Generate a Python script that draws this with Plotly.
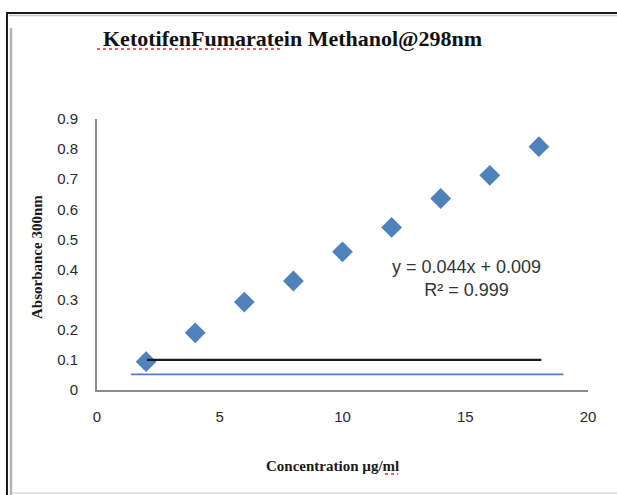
import plotly.graph_objects as go

# Calibration standards: concentration (µg/ml) vs absorbance
concentration = [2, 4, 6, 8, 10, 12, 14, 16, 18]
absorbance = [0.094, 0.19, 0.292, 0.362, 0.459, 0.54, 0.636, 0.713, 0.808]

# Horizontal reference lines drawn on the chart
black_line_x = [2.03, 18.1]
black_line_y = [0.1, 0.1]
blue_line_x = [1.38, 19.0]
blue_line_y = [0.052, 0.052]

x_ticks = [0, 5, 10, 15, 20]
y_ticks = [0, 0.1, 0.2, 0.3, 0.4, 0.5, 0.6, 0.7, 0.8, 0.9]

equation_text = "y = 0.044x + 0.009<br>R² = 0.999"

W, H = 617, 495
L, R, T, B = 97, 29, 119, 105
PW, PH = W - L - R, H - T - B


def px(x):
    return (x - L) / PW


def py(y):
    return (H - B - y) / PH


fig = go.Figure()

fig.add_trace(go.Scatter(
    x=blue_line_x, y=blue_line_y, mode="lines",
    line=dict(color="#4F81BD", width=1.6), hoverinfo="skip", showlegend=False))
fig.add_trace(go.Scatter(
    x=concentration, y=absorbance, mode="markers",
    marker=dict(symbol="diamond", size=16, color="#4F81BD", line=dict(width=0)),
    showlegend=False))
fig.add_trace(go.Scatter(
    x=black_line_x, y=black_line_y, mode="lines",
    line=dict(color="#1a1a1a", width=2.4), hoverinfo="skip", showlegend=False))

axis_common = dict(
    showgrid=False, zeroline=False, showline=True, linecolor="#8c8c8c", linewidth=2,
    ticks="", tickfont=dict(family="Liberation Sans", size=15, color="#2a2a2a"),
)

fig.update_xaxes(range=[0, 20], tickvals=x_ticks, ticktext=[str(v) for v in x_ticks],
                 ticklabelstandoff=12, **axis_common)
fig.update_yaxes(range=[0, 0.9], tickvals=y_ticks,
                 ticktext=["0" if v == 0 else f"{v:.1f}" for v in y_ticks],
                 ticklabelstandoff=14, **axis_common)

annotations = [
    dict(x=15.06, y=0.369, xref="x", yref="y", text=equation_text, showarrow=False,
         xanchor="center", yanchor="middle",
         font=dict(family="Liberation Sans", size=18, color="#333333"), align="center"),
    dict(x=px(37), y=py(257), xref="paper", yref="paper", text="<b>Absorbance 300nm</b>",
         textangle=-90, showarrow=False, xanchor="center", yanchor="middle",
         font=dict(family="Liberation Serif", size=15, color="#1a1a1a")),
    dict(x=px(332), y=py(466), xref="paper", yref="paper", text="<b>Concentration µg/ml</b>",
         showarrow=False, xanchor="center", yanchor="middle",
         font=dict(family="Liberation Serif", size=15, color="#1a1a1a")),
    dict(x=px(292), y=py(38), xref="paper", yref="paper",
         text="<b>KetotifenFumaratein Methanol@298nm</b>", showarrow=False,
         xanchor="center", yanchor="middle",
         font=dict(family="Liberation Serif", size=22, color="#111111")),
]

shapes = [
    # outer frame
    dict(type="line", xref="paper", yref="paper", x0=px(7), x1=px(W + 5), y0=py(13), y1=py(13),
         line=dict(color="#1a1a1a", width=2)),
    dict(type="line", xref="paper", yref="paper", x0=px(9), x1=px(W + 5), y0=py(15.5), y1=py(15.5),
         line=dict(color="#c8c8c8", width=1.5)),
    dict(type="line", xref="paper", yref="paper", x0=px(7), x1=px(7), y0=py(12), y1=py(H + 5),
         line=dict(color="#1a1a1a", width=2)),
    dict(type="line", xref="paper", yref="paper", x0=px(11), x1=px(11), y0=py(28), y1=py(H + 5),
         line=dict(color="#b5b5b5", width=2.5)),
    dict(type="line", xref="paper", yref="paper", x0=px(12), x1=px(W + 5), y0=py(493), y1=py(493),
         line=dict(color="#dcdcdc", width=1.5)),
    # spell-check underlines
    dict(type="line", xref="paper", yref="paper", x0=px(97), x1=px(283), y0=py(49), y1=py(49),
         line=dict(color="#e03030", width=1.5, dash="dot")),
    dict(type="line", xref="paper", yref="paper", x0=px(385), x1=px(398), y0=py(474), y1=py(474),
         line=dict(color="#e03030", width=1.5, dash="dot")),
]

fig.update_layout(
    width=W, height=H,
    margin=dict(l=L, r=R, t=T, b=B),
    paper_bgcolor="white", plot_bgcolor="white",
    annotations=annotations, shapes=shapes,
    showlegend=False,
)

fig.write_html("out.html")
